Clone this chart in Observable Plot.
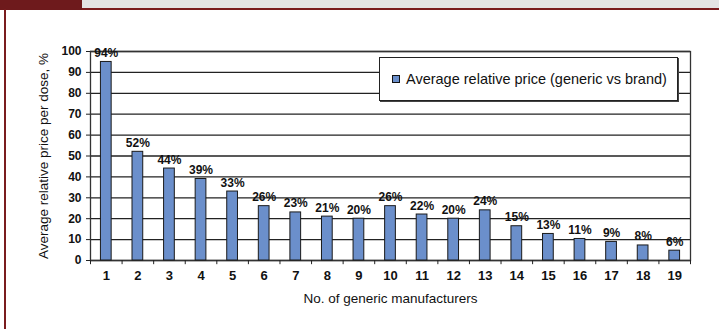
<!DOCTYPE html>
<html><head><meta charset="utf-8">
<script src="https://cdn.jsdelivr.net/npm/d3@7"></script>
<script src="https://cdn.jsdelivr.net/npm/@observablehq/plot@0.6"></script>
<style>
html,body{margin:0;padding:0;background:#fff;}
#wrap{position:relative;width:719px;height:329px;overflow:hidden;font-family:"Liberation Sans",Arial,sans-serif;}
.band{position:absolute;left:0;top:0;width:719px;height:8px;background:#e4e4e4;}
.bandline{position:absolute;left:0;top:8px;width:719px;height:1.5px;background:#7a1c1e;}
.block{position:absolute;left:0;top:0;width:82px;height:10px;background:#6e1a1c;}
.vline{position:absolute;left:4px;top:9px;width:2px;height:320px;background:#7a1c1e;}
#legend{position:absolute;left:379px;top:57px;width:299px;height:44px;background:#fff;border:1px solid #222;box-shadow:1px 1px 0 #444;box-sizing:border-box;display:flex;align-items:center;font-size:14.5px;color:#111;}
#legend .sw{display:inline-block;width:6px;height:6px;background:#6b8fcb;border:1px solid #111;margin-left:12px;margin-right:6px;}
svg{position:absolute;left:0;top:0;}
</style></head>
<body>
<div id="wrap">
<div class="band"></div><div class="bandline"></div><div class="block"></div><div class="vline"></div>
<div id="chart"></div>
<div id="legend"><span class="sw"></span><span>Average relative price (generic vs brand)</span></div>
</div>
<script>
const categories = ["1","2","3","4","5","6","7","8","9","10","11","12","13","14","15","16","17","18","19"];
const values = [95, 52, 44, 39, 33, 26, 23, 21, 20, 26, 22, 20, 24, 16.4, 12.7, 10.3, 8.9, 7.2, 4.7];
const labels = ["94%","52%","44%","39%","33%","26%","23%","21%","20%","26%","22%","20%","24%","15%","13%","11%","9%","8%","6%"];
const yTicks = [0,10,20,30,40,50,60,70,80,90,100];

const data = categories.map((c,i)=>({c, v: values[i], t: labels[i]}));
const W = 719, H = 329, ml = 90, mr = 29, mt = 51, mb = 69;
const step = (W - ml - mr) / categories.length;
const narrow = '"Liberation Sans Narrow","Arial Narrow","Liberation Sans",sans-serif';

const chart = Plot.plot({
  width: W, height: H,
  marginLeft: ml, marginRight: mr, marginTop: mt, marginBottom: mb,
  style: {background: "transparent", overflow: "visible"},
  x: {domain: categories, paddingInner: 0.66, paddingOuter: 0.33, round: false, label: null},
  y: {domain: [0,100], label: null},
  marks: [
    Plot.ruleY(yTicks, {stroke: "#222", strokeWidth: 1.3}),
    Plot.frame({stroke: "#333", strokeWidth: 1.3}),
    Plot.barY(data, {x: "c", y: "v", fill: "#6b8fcb", stroke: "#1a1a1a", strokeWidth: 1}),
    Plot.ruleX(categories, {x: d=>d, y1: 0, y2: -2, dx: -step/2, stroke: "#222", strokeWidth: 1}),
    Plot.ruleX(categories.slice(-1), {x: d=>d, y1: 0, y2: -2, dx: step/2, stroke: "#222", strokeWidth: 1}),
    Plot.text(data, {x: "c", y: "v", text: "t", lineAnchor: "bottom", dy: -5,
      fontWeight: "bold", fontSize: 12, fontFamily: narrow, fill: "#111"}),
    Plot.axisY(yTicks, {tickSize: 4, tickPadding: 5, fontWeight: "bold", fontSize: 12, fontFamily: narrow, fill: "#111", stroke:"#222", label: null}),
    Plot.axisX({tickSize: 0, tickPadding: 10, fontWeight: "bold", fontSize: 13, fontFamily: narrow, fill: "#111", label: null}),
    Plot.text(["No. of generic manufacturers"], {frameAnchor: "bottom", dy: 38, fontSize: 13.5, fontFamily: narrow, fill: "#111", lineAnchor: "middle"}),
    Plot.text(["Average relative price per dose, %"], {frameAnchor: "left", textAnchor: "middle", dx: -47, rotate: -90, fontSize: 13.5, fontFamily: '"Liberation Sans",Arial,sans-serif', fill: "#111"})
  ]
});
document.getElementById("chart").appendChild(chart);
</script>
</body></html>
